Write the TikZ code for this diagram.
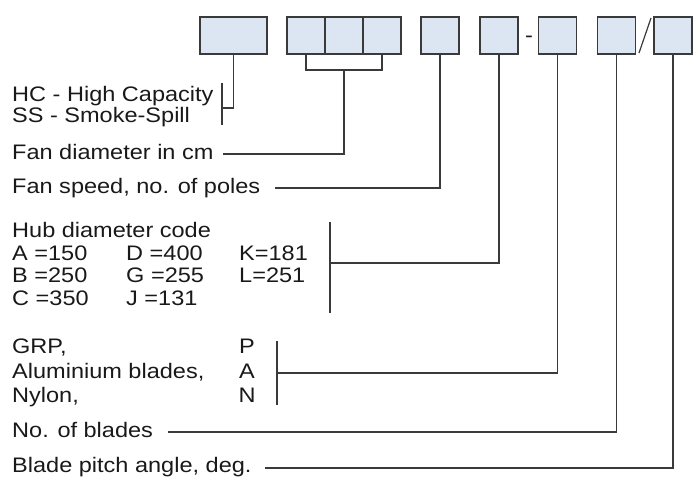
\documentclass[tikz,border=0pt]{standalone}
\usepackage{fontspec}
\setmainfont[FakeStretch=1.12]{Liberation Sans}
\usetikzlibrary{positioning}
\definecolor{cellblue}{HTML}{DCE6F2}
\definecolor{inkgray}{HTML}{3A3A3A}

\begin{document}
\begin{tikzpicture}[x=1pt,y=-1pt,
    cell/.style={draw=inkgray,fill=cellblue,line width=1.3pt,minimum width=38pt,minimum height=37pt,inner sep=0pt,outer sep=0pt},
    link/.style={draw=inkgray,line width=1.2pt},
    txt/.style={anchor=west,inner sep=0pt,text height=15pt,text depth=4pt,font=\fontsize{21}{22}\selectfont,text=black!90}]
        \useasboundingbox (0,0) rectangle (698,478);

        % Code boxes
        \node[cell,minimum width=67pt] (series) at (233.5,35.5) {};
        \node[cell] (dia1) at (306,35.5) {};
        \node[cell] (dia2) [right=0pt of dia1] {};
        \node[cell] (dia3) [right=0pt of dia2] {};
        \node[cell] (poles) at (440,35.5) {};
        \node[cell] (hub) at (499,35.5) {};
        \node[inner sep=0pt,anchor=base,font=\fontsize{21}{22}\selectfont,text=black!90] (dash) at (529,43) {-};
        \node[cell] (mat) at (557.7,35.5) {};
        \node[cell] (nblades) at (616.5,35.5) {};
        \draw[inkgray,line width=1.2pt] (639,53) -- (651,18);
        \node[cell] (pitch) at (673,35.5) {};

        % Labels
        \node[txt] (hc) at (12,96.5) {HC - High Capacity};
        \node[txt] (ss) at (12,117.5) {SS - Smoke-Spill};
        \node[txt] (dia) at (12,154) {Fan diameter in cm};
        \node[txt] (speed) at (12,188) {Fan speed, no. of poles};

        % Hub diameter table
        \node[txt] (hubhead) at (12,232.5) {Hub diameter code};
        \node[txt] (ha) at (12,254.5) {A =150};
        \node[txt] (hb) at (12,277) {B =250};
        \node[txt] (hcc) at (12,299.5) {C =350};
        \node[txt] (hd) at (126,254.5) {D =400};
        \node[txt] (hg) at (126,277) {G =255};
        \node[txt] (hj) at (126,299.5) {J =131};
        \node[txt] (hk) at (239,254.5) {K=181};
        \node[txt] (hl) at (239,277) {L=251};

        % Blade material
        \node[txt] (grp) at (12,347.5) {GRP,};
        \node[txt] (alu) at (12,372.5) {Aluminium blades,};
        \node[txt] (nyl) at (12,396.5) {Nylon,};
        \node[txt,anchor=center] (p) at (247,347.5) {P};
        \node[txt,anchor=center] (a) at (247,372.5) {A};
        \node[txt,anchor=center] (n) at (247,396.5) {N};

        \node[txt] (blades) at (12,432) {No. of blades};
        \node[txt] (angle) at (12,467) {Blade pitch angle, deg.};

        % Bars and line ends
        \coordinate (capbar) at (222,108);
        \coordinate (diaend) at (223,154);
        \coordinate (speedend) at (275,188);
        \coordinate (hubbar) at (330,263);
        \coordinate (matbar) at (277,373);
        \coordinate (bladesend) at (168,432);
        \coordinate (angleend) at (265,468);
        \draw[link] (222,83) -- (222,125);
        \draw[link] (330,222) -- (330,313);
        \draw[link] (277,341) -- (277,405);

        % Connectors
        \draw[link] (series.south) |- (capbar);
        \draw[link] (dia1.south) -- ++(0,16) -| (dia3.south);
        \draw[link] (dia2.south |- 0,70) |- (diaend);
        \draw[link] (poles.south) |- (speedend);
        \draw[link] (hub.south) |- (hubbar);
        \draw[link] (mat.south) |- (matbar);
        \draw[link] (nblades.south) |- (bladesend);
        \draw[link] (pitch.south) |- (angleend);
\end{tikzpicture}
\end{document}
